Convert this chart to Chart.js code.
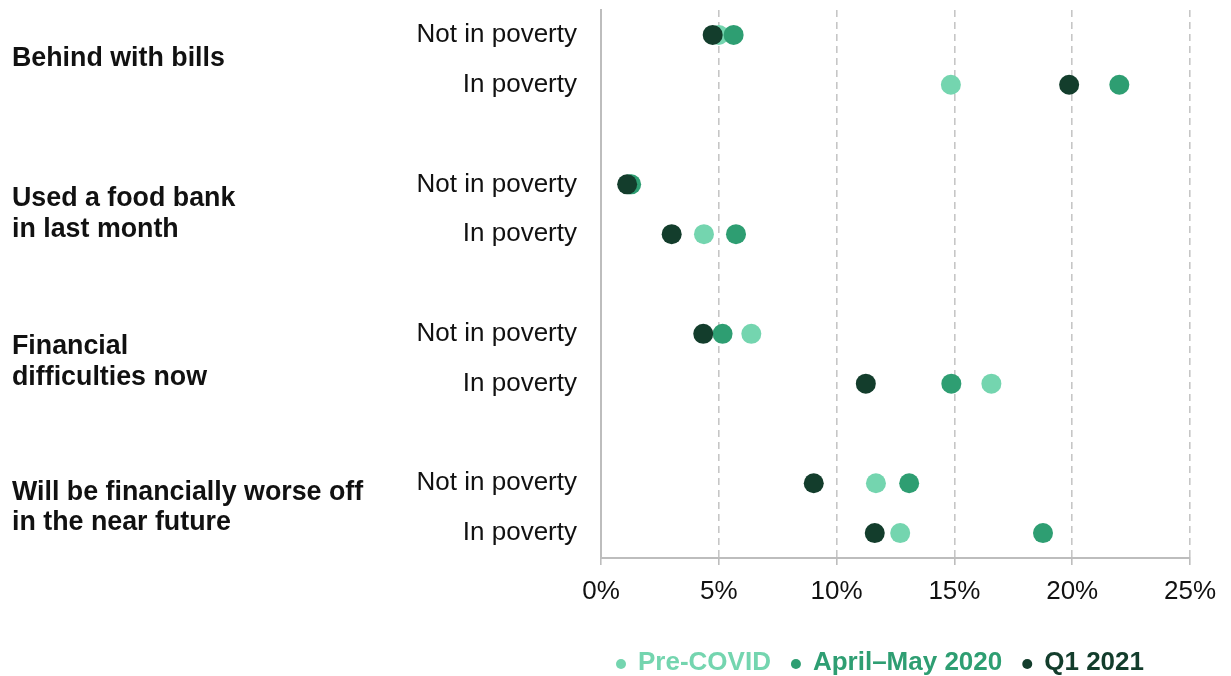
<!DOCTYPE html>
<html>
<head>
<meta charset="utf-8">
<script src="https://cdn.jsdelivr.net/npm/chart.js@4.4.1/dist/chart.umd.min.js"></script>
<style>
  html, body { margin: 0; padding: 0; background: #fff; }
</style>
</head>
<body>
<canvas id="chart" width="1231" height="676"></canvas>
<script>
// ---------------- data ----------------
const categories = [
  ['Behind with bills'],
  ['Used a food bank', 'in last month'],
  ['Financial', 'difficulties now'],
  ['Will be financially worse off', 'in the near future'],
]
const rowLabels = [
  'Not in poverty', 'In poverty',
  'Not in poverty', 'In poverty',
  'Not in poverty', 'In poverty',
  'Not in poverty', 'In poverty',
]
// row slots on the y scale (a blank slot between groups)
const rowPos = [0, 1, 3, 4, 6, 7, 9, 10]
// where each group title sits on the same scale
const groupPos = [0.47, 3.6, 6.57, 9.49]

const seriesNames = ['Pre-COVID', 'April\u2013May 2020', 'Q1 2021']
const preCovid = [5.0, 14.85, 1.2, 4.37, 6.38, 16.57, 11.67, 12.7]
const aprilMay = [5.63, 22.0, 1.28, 5.73, 5.16, 14.87, 13.08, 18.76]
const q1_2021 = [4.74, 19.87, 1.11, 3.0, 4.34, 11.24, 9.03, 11.62]

const xMin = 0
const xMax = 25
const xStep = 5

// ---------------- style ----------------
const FONT = '"Liberation Sans", Arial, sans-serif'
const TEXT = '#111111'
const AXIS = '#bdbdbd'
const GRID = '#c6c6c6'
const colors = ['#74d5af', '#2e9e72', '#133d2c']

function points(values) {
  return values.map((v, i) => ({ x: v, y: rowPos[i] }))
}

// legend under the plot, text coloured like its series
const dotLegend = {
  id: 'dotLegend',
  afterDraw(chart) {
    const { ctx, chartArea } = chart
    ctx.save()
    ctx.font = 'bold 26px ' + FONT
    ctx.textBaseline = 'middle'
    const r = 5
    const gapDot = 12
    const gapItem = 20
    let x = chartArea.left + 15
    const y = 664
    chart.data.datasets.forEach((ds) => {
      ctx.fillStyle = ds.backgroundColor
      ctx.beginPath()
      ctx.arc(x + r, y, r, 0, Math.PI * 2)
      ctx.fill()
      x += 2 * r + gapDot
      ctx.fillText(ds.label, x, y - 1)
      x += ctx.measureText(ds.label).width + gapItem
    })
    ctx.restore()
  },
}

const datasets = [preCovid, aprilMay, q1_2021].map((vals, i) => ({
  label: seriesNames[i],
  data: points(vals),
  backgroundColor: colors[i],
  borderWidth: 0,
  pointRadius: 10,
  pointHoverRadius: 10,
  order: 2 - i, // darkest on top
}))

new Chart(document.getElementById('chart').getContext('2d'), {
  type: 'scatter',
  data: { datasets },
  plugins: [dotLegend],
  options: {
    responsive: false,
    devicePixelRatio: 1,
    animation: false,
    layout: { padding: { top: 10, right: 41, bottom: 0, left: 12 } },
    plugins: {
      legend: { display: false },
      tooltip: { enabled: false },
    },
    scales: {
      x: {
        type: 'linear',
        min: xMin,
        max: xMax,
        ticks: {
          stepSize: xStep,
          color: TEXT,
          font: { family: FONT, size: 26 },
          padding: 11,
          callback: (v) => v + '%',
        },
        grid: {
          color: (c) => (c.tick && c.tick.value === 0 ? 'rgba(0,0,0,0)' : GRID),
          lineWidth: 1.6,
          drawTicks: true,
          tickLength: 7,
          tickColor: AXIS,
          tickWidth: 1.6,
          tickBorderDash: [],
        },
        border: { display: true, color: AXIS, width: 2, dash: [7, 5] },
        afterFit(scale) {
          scale.height = 118
          scale.paddingLeft = 0
          scale.paddingRight = 0
        },
      },
      y: {
        type: 'linear',
        position: 'left',
        weight: 0,
        min: -0.5,
        max: 10.5,
        reverse: true,
        afterBuildTicks(scale) {
          scale.ticks = rowPos.map((v) => ({ value: v }))
        },
        ticks: {
          color: TEXT,
          font: { family: FONT, size: 26 },
          padding: 24,
          callback: (v) => rowLabels[rowPos.indexOf(v)],
        },
        grid: { display: false, drawTicks: false },
        border: { display: true, color: AXIS, width: 2 },
        afterFit(scale) {
          scale.width = 211
          scale.paddingTop = 0
          scale.paddingBottom = 0
        },
      },
      y2: {
        type: 'linear',
        position: 'left',
        weight: 1,
        min: -0.5,
        max: 10.5,
        reverse: true,
        afterBuildTicks(scale) {
          scale.ticks = groupPos.map((v) => ({ value: v }))
        },
        ticks: {
          color: TEXT,
          crossAlign: 'far',
          font: { family: FONT, size: 26.8, weight: 'bold', lineHeight: 1.14 },
          padding: 0,
          callback: (v) => categories[groupPos.indexOf(v)],
        },
        grid: { display: false, drawTicks: false },
        border: { display: false },
        afterFit(scale) {
          scale.width = 378
          scale.paddingTop = 0
          scale.paddingBottom = 0
        },
      },
    },
  },
})
</script>
</body>
</html>
